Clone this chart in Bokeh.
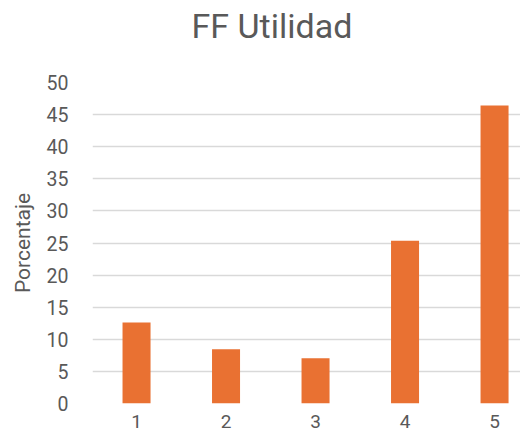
from bokeh.plotting import figure
from bokeh.models import Range1d, FixedTicker, Title
from bokeh.embed import file_html
from bokeh.resources import INLINE

categories = [1, 2, 3, 4, 5]
values = [12.6, 8.45, 7.05, 25.35, 46.4]
y_ticks = [0, 5, 10, 15, 20, 25, 30, 35, 40, 45, 50]
title_text = "FF Utilidad"
y_label = "Porcentaje"

FONT = "Roboto"
GREY = "#595959"

p = figure(width=520, height=433, output_backend="svg", toolbar_location=None,
           x_range=Range1d(0.508, 5.29), y_range=Range1d(0, 50),
           min_border_left=92, min_border_right=0, min_border_top=82, min_border_bottom=30)
p.title = None

p.vbar(x=categories, top=values, width=0.313, color="#E97132", line_color=None)

# spacer between title and plotting area, then the chart title
p.add_layout(Title(text=" ", text_font_size="1px", standoff=34), "above")
p.add_layout(Title(text=title_text, align="left", offset=99, standoff=0,
                   text_font=FONT, text_font_size="34px", text_font_style="normal",
                   text_color=GREY), "above")

p.outline_line_color = None
p.xgrid.grid_line_color = None
p.ygrid.grid_line_color = "#D9D9D9"
p.ygrid.grid_line_width = 1.3

p.yaxis.ticker = FixedTicker(ticks=y_ticks)
p.xaxis.ticker = FixedTicker(ticks=categories)
for ax in (p.xaxis, p.yaxis):
    ax.axis_line_color = None
    ax.major_tick_line_color = None
    ax.minor_tick_line_color = None
    ax.major_label_text_font = FONT
    ax.major_label_text_font_size = "19.5px"
    ax.major_label_text_color = GREY
p.xaxis.major_label_text_font_size = "19px"
p.yaxis.major_label_standoff = 18
p.xaxis.major_label_standoff = 5
p.yaxis.axis_label = y_label
p.yaxis.axis_label_text_font = FONT
p.yaxis.axis_label_text_font_size = "21px"
p.yaxis.axis_label_text_font_style = "normal"
p.yaxis.axis_label_text_color = GREY
p.yaxis.axis_label_standoff = 9

open("out.html", "w").write(file_html(p, INLINE))
